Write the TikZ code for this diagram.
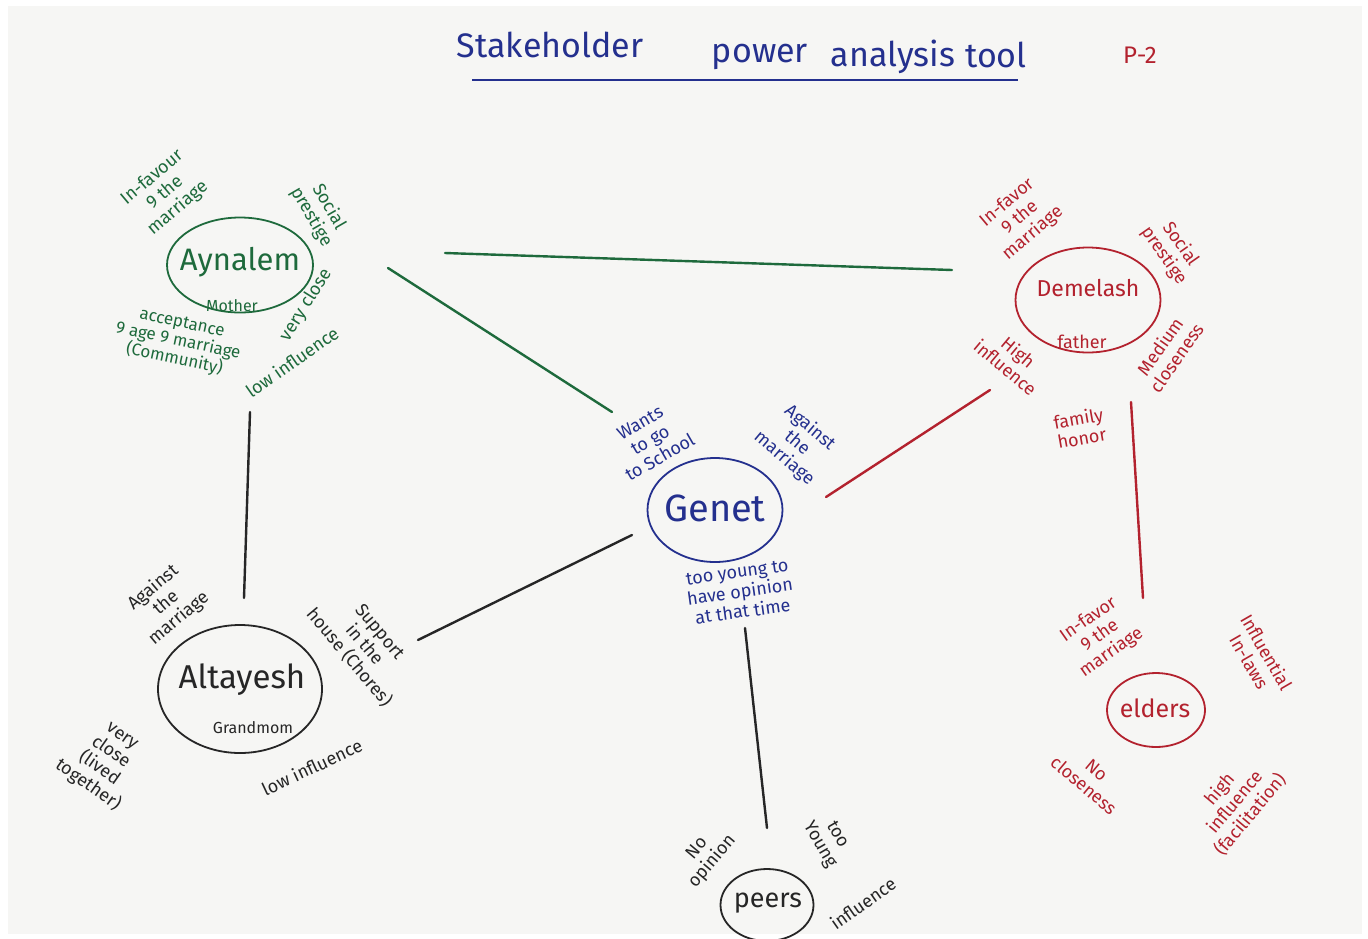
\documentclass[tikz,border=0pt]{standalone}
\usepackage{fontspec}
\setmainfont{Fira Sans}
\usetikzlibrary{shapes.geometric}
\definecolor{pgreen}{HTML}{1E6A3C}
\definecolor{pred}{HTML}{B3222E}
\definecolor{pblue}{HTML}{24308E}
\definecolor{pblack}{HTML}{262626}
\definecolor{paper}{HTML}{F6F6F4}
\newcommand{\myfs}[2]{\fontsize{#1}{#2}\selectfont}
\tikzset{
  lbl/.style={font=\myfs{18}{20}, align=center, inner sep=0pt},
  who/.style={draw, ellipse, line width=1.8pt, inner sep=0pt},
  link/.style={line width=2.4pt, line cap=round},
  ttl/.style={font=\myfs{34}{36}, text=pblue, inner sep=0pt}
}
\begin{document}
\begin{tikzpicture}[x=1pt,y=-1pt]
\useasboundingbox (0,0) rectangle (1368,938);
\fill[white] (0,0) rectangle (1368,938);
\fill[paper] (8,6) rectangle (1362,934);
\clip (0,0) rectangle (1368,938);

% title
\node[ttl] (t1) at (550,45) {Stakeholder};
\node[ttl] (t2) at (760,57) {power};
\node[ttl] (t3) at (893,57) {analysis};
\node[ttl] (t4) at (996,55) {tool};
\coordinate (ul1) at (472,80);
\coordinate (ul2) at (1018,80);
\draw[pblue, line width=1.8pt] (ul1) -- (ul2);
\node[font=\myfs{24}{26}, text=pred] (page) at (1140,55) {P-2};

% Aynalem (green)
\begin{scope}[pgreen, text=pgreen]
\node[who, minimum width=146pt, minimum height=95pt] (ayn) at (240,265) {};
\node[font=\myfs{31}{32}] (aynt) at (240,262) {Aynalem};
\node[lbl, font=\myfs{16}{16}] (aynm) at (232,306) {Mother};
\node[lbl, rotate=40] (ayn1) at (165,193) {In-favour\\9 the\\marriage};
\node[lbl, rotate=-60] (ayn2) at (320,212) {Social\\prestige};
\node[lbl, rotate=58] (ayn3) at (306,305) {very close};
\node[lbl, rotate=35] (ayn4) at (292,362) {low influence};
\node[lbl, rotate=-12, font=\myfs{17}{18.5}] (ayn5) at (178,342) {acceptance\\9 age 9 marriage\\(Community)};
\end{scope}

% Demelash (red)
\begin{scope}[pred, text=pred]
\node[who, minimum width=145pt, minimum height=105pt] (dem) at (1088,300) {};
\node[font=\myfs{23}{24}] (demt) at (1088,288) {Demelash};
\node[lbl, font=\myfs{18}{18}] (demf) at (1082,342) {father};
\node[lbl, rotate=40] (dem1) at (1020,218) {In-favor\\9 the\\marriage};
\node[lbl, rotate=-55] (dem2) at (1172,250) {Social\\prestige};
\node[lbl, rotate=-40] (dem3) at (1012,360) {High\\influence};
\node[lbl, rotate=55] (dem4) at (1168,352) {Medium\\closeness};
\node[lbl, rotate=10] (dem5) at (1080,428) {family\\honor};
\end{scope}

% Genet (blue)
\begin{scope}[pblue, text=pblue]
\node[who, minimum width=135pt, minimum height=104pt] (gen) at (715,510) {};
\node[font=\myfs{38}{40}] (gent) at (715,508) {Genet};
\node[lbl, rotate=30] (gen1) at (650,440) {Wants\\to go\\to School};
\node[lbl, rotate=-40] (gen2) at (797,443) {Against\\the\\marriage};
\node[lbl, rotate=8] (gen3) at (740,592) {too young to\\have opinion\\at that time};
\end{scope}

% Altayesh (black)
\begin{scope}[pblack, text=pblack]
\node[who, minimum width=164pt, minimum height=128pt] (alt) at (240,689) {};
\node[font=\myfs{33}{34}] (altt) at (242,680) {Altayesh};
\node[lbl, font=\myfs{16}{16}] (altg) at (253,728) {Grandmom};
\node[lbl, rotate=40] (alt1) at (166,603) {Against\\the\\marriage};
\node[lbl, rotate=-50] (alt2) at (364,645) {Support\\in the\\house (Chores)};
\node[lbl, rotate=-35] (alt3) at (104,762) {very\\close\\(lived\\together)};
\node[lbl, rotate=25] (alt4) at (312,767) {low influence};
\end{scope}

% elders (red)
\begin{scope}[pred, text=pred]
\node[who, minimum width=98pt, minimum height=74pt] (eld) at (1156,710) {};
\node[font=\myfs{25}{26}] (eldt) at (1155,708) {elders};
\node[lbl, rotate=35] (eld1) at (1100,636) {In-favor\\9 the\\marriage};
\node[lbl, rotate=-60] (eld2) at (1258,657) {Influential\\In-laws};
\node[lbl, rotate=-40] (eld3) at (1090,778) {No\\closeness};
\node[lbl, rotate=50] (eld4) at (1235,802) {high\\influence\\(facilitation)};
\end{scope}

% peers (black)
\begin{scope}[pblack, text=pblack]
\node[who, minimum width=93pt, minimum height=72pt] (pee) at (767,905) {};
\node[font=\myfs{27}{28}] (peet) at (768,903) {peers};
\node[lbl, rotate=50] (pee1) at (705,855) {No\\opinion};
\node[lbl, rotate=-60] (pee2) at (828,840) {too\\Young};
\node[lbl, rotate=35] (pee3) at (863,903) {influence};
\end{scope}

% connectors
\coordinate (c1a) at (445,253); \coordinate (c1b) at (952,270);
\draw[link, pgreen] (c1a) -- (c1b);
\coordinate (c2a) at (388,268); \coordinate (c2b) at (612,412);
\draw[link, pgreen] (c2a) -- (c2b);
\coordinate (c3a) at (250,412); \coordinate (c3b) at (244,598);
\draw[link, pblack] (c3a) -- (c3b);
\coordinate (c4a) at (418,640); \coordinate (c4b) at (632,535);
\draw[link, pblack] (c4a) -- (c4b);
\coordinate (c5a) at (826,497); \coordinate (c5b) at (990,390);
\draw[link, pred] (c5a) -- (c5b);
\coordinate (c6a) at (1131,402); \coordinate (c6b) at (1143,598);
\draw[link, pred] (c6a) -- (c6b);
\coordinate (c7a) at (745,628); \coordinate (c7b) at (767,828);
\draw[link, pblack] (c7a) -- (c7b);
\end{tikzpicture}
\end{document}
